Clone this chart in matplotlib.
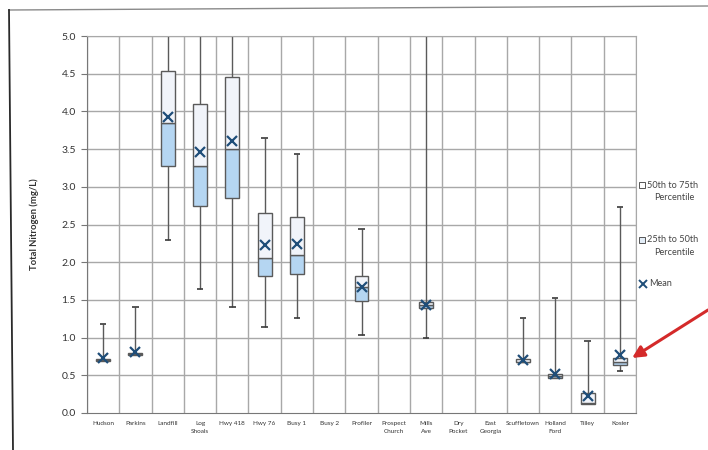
import numpy as np
import matplotlib
matplotlib.use("Agg")
import matplotlib.pyplot as plt
from matplotlib.lines import Line2D
from matplotlib.patches import Rectangle

nan = np.nan

sites = ["Hudson", "Parkins", "Landfill", "Log\nShoals", "Hwy 418", "Hwy 76",
         "Busy 1", "Busy 2", "Profiler", "Prospect\nChurch", "Mills\nAve",
         "Dry\nPocket", "East\nGeorgia", "Scuffletown", "Holland\nFord",
         "Tilley", "Kosler"]

# Total nitrogen (mg/L) summary statistics per site
whisker_low = [0.69, 0.77, 2.29, 1.64, 1.41, 1.14, 1.26, nan, 1.03, nan, 1.00,
               nan, nan, 0.67, 0.47, 0.12, 0.56]
q1 = [0.69, 0.77, 3.28, 2.75, 2.85, 1.82, 1.84, nan, 1.48, nan, 1.39,
      nan, nan, 0.67, 0.47, 0.12, 0.64]
median = [0.70, 0.78, 3.84, 3.28, 3.50, 2.06, 2.10, nan, 1.67, nan, 1.43,
          nan, nan, 0.68, 0.49, 0.13, 0.68]
q3 = [0.72, 0.80, 4.54, 4.10, 4.45, 2.65, 2.60, nan, 1.82, nan, 1.47,
      nan, nan, 0.71, 0.52, 0.26, 0.73]
whisker_high = [1.18, 1.41, 5.60, 5.80, 5.50, 3.65, 3.43, nan, 2.44, nan, 5.30,
                nan, nan, 1.26, 1.53, 0.96, 2.73]
mean = [0.73, 0.81, 3.93, 3.46, 3.61, 2.23, 2.24, nan, 1.67, nan, 1.43,
        nan, nan, 0.70, 0.52, 0.22, 0.77]

y_ticks = [0.0, 0.5, 1.0, 1.5, 2.0, 2.5, 3.0, 3.5, 4.0, 4.5, 5.0]

upper_fill = "#f1f4fa"
lower_fill = "#b5d6f2"
edge = "#5a5a5a"
mean_col = "#1f4e79"
grid_col = "#a8a8a8"

plt.rcParams["font.family"] = ["Lato", "DejaVu Sans"]

fig = plt.figure(figsize=(7.08, 4.5), dpi=100)
W, H = 708, 450
ax = fig.add_axes([87 / W, 1 - 413 / H, (636 - 87) / W, (413 - 36) / H])

n = len(sites)
x = np.arange(n)
ax.set_xlim(-0.5, n - 0.5)
ax.set_ylim(0, 5.0)

# grid: horizontal at each tick, vertical at site boundaries
for yv in y_ticks[1:]:
    ax.axhline(yv, color=grid_col, lw=1.0, zorder=0)
for xb in np.arange(n + 1) - 0.5:
    ax.axvline(xb, color=grid_col, lw=1.0, zorder=0)

box_w = 0.43
cap_w = 0.2
for i in range(n):
    if np.isnan(q1[i]):
        continue
    ax.vlines(x[i], whisker_low[i], q1[i], color=edge, lw=1.0, zorder=2)
    ax.vlines(x[i], q3[i], whisker_high[i], color=edge, lw=1.0, zorder=2)
    ax.hlines([whisker_low[i], whisker_high[i]], x[i] - cap_w / 2, x[i] + cap_w / 2,
              color="#3a3a3a", lw=1.2, zorder=2)
    ax.bar(x[i], median[i] - q1[i], bottom=q1[i], width=box_w,
           color=lower_fill, edgecolor=edge, lw=1.0, zorder=3)
    ax.bar(x[i], q3[i] - median[i], bottom=median[i], width=box_w,
           color=upper_fill, edgecolor=edge, lw=1.0, zorder=3)
    ax.plot(x[i], mean[i], marker="x", ms=6.5, mew=1.6, color=mean_col, zorder=4)

ax.set_yticks(y_ticks)
ax.set_yticklabels([f"{v:.1f}" for v in y_ticks], fontsize=7.5, color="#333333")
ax.set_xticks(x)
ax.set_xticklabels(sites, fontsize=4.6, color="#333333", linespacing=1.6)
ax.tick_params(axis="y", length=4, color="#777777", pad=4)
ax.tick_params(axis="x", length=0, pad=6)
for s in ["top", "right"]:
    ax.spines[s].set_color(grid_col)
ax.spines["left"].set_color("#777777")
ax.spines["bottom"].set_color("#777777")
ax.set_ylabel("Total Nitrogen (mg/L)", fontsize=6.8, fontweight="bold",
              color="#333333", labelpad=16)

# legend on the right
def fy(py):
    return 1 - py / H

fig.patches.append(Rectangle((639 / W, fy(188)), 6 / W, 6 / H, transform=fig.transFigure,
                             facecolor="white", edgecolor="#555555", lw=0.7))
fig.text(647 / W, fy(185), "50th to 75th", fontsize=6.6, color="#444444", va="center")
fig.text(674 / W, fy(198), "Percentile", fontsize=6.6, color="#444444", va="center", ha="center")
fig.patches.append(Rectangle((639 / W, fy(243)), 6 / W, 6 / H, transform=fig.transFigure,
                             facecolor="#e3edf7", edgecolor="#555555", lw=0.7))
fig.text(647 / W, fy(240), "25th to 50th", fontsize=6.6, color="#444444", va="center")
fig.text(674 / W, fy(252), "Percentile", fontsize=6.6, color="#444444", va="center", ha="center")
fig.lines.append(Line2D([643 / W], [fy(284)], marker="x", ms=5.5, mew=1.4, color=mean_col,
                        transform=fig.transFigure))
fig.text(649 / W, fy(284), "Mean", fontsize=6.6, color="#444444", va="center")

# page frame
fig.lines.append(Line2D([9 / W, 1.0], [fy(10), fy(6)], color="#8a8a8a", lw=1.0,
                        transform=fig.transFigure))
fig.lines.append(Line2D([9 / W, 13 / W], [fy(10), 0.0], color="#2a2a2a", lw=1.3,
                        transform=fig.transFigure))

# arrow pointing at Kosler
k = sites.index("Kosler")
ax.annotate("", xy=(x[k] + 0.38, q3[k]), xycoords="data",
            xytext=(1.0, fy(310)), textcoords="figure fraction",
            arrowprops=dict(arrowstyle="-|>,head_length=0.7,head_width=0.35",
                            color="#d42a2a", lw=2.2, shrinkA=0, shrinkB=0),
            annotation_clip=False)

fig.savefig("out.png", dpi=100)
